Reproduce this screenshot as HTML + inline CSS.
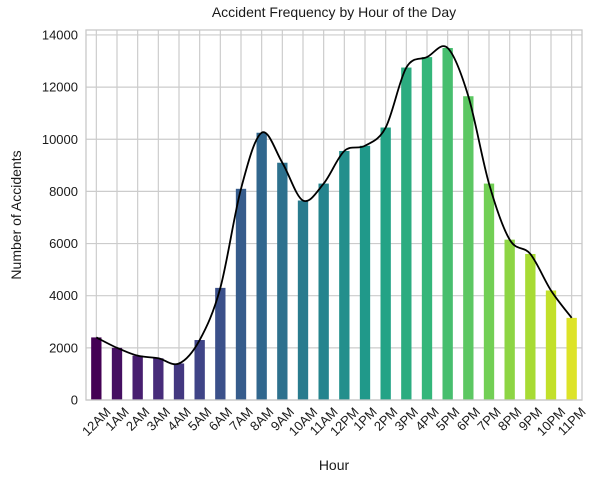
<!DOCTYPE html>
<html><head><meta charset="utf-8"><style>
body{margin:0;background:#fff;}
svg{display:block;font-family:"Liberation Sans","DejaVu Sans",sans-serif;}
</style></head><body>
<svg id="chart" width="600" height="481">
<text x="334" y="17" text-anchor="middle" font-size="14" fill="#1a1a1a">Accident Frequency by Hour of the Day</text>
<text x="334" y="470" text-anchor="middle" font-size="14" fill="#1a1a1a">Hour</text>
<text transform="translate(21,215) rotate(-90)" text-anchor="middle" font-size="14" fill="#1a1a1a">Number of Accidents</text>
<g id="grid"></g><g id="bars"></g><g id="line"></g><g id="ticks"></g>
<rect x="86" y="30" width="496" height="370" fill="none" stroke="#c8c8c8" stroke-width="1.3"/>
</svg>
<script>
const categories=["12AM","1AM","2AM","3AM","4AM","5AM","6AM","7AM","8AM","9AM","10AM","11AM","12PM","1PM","2PM","3PM","4PM","5PM","6PM","7PM","8PM","9PM","10PM","11PM"];
const counts=[2400,2000,1700,1600,1400,2300,4300,8100,10250,9100,7650,8300,9550,9750,10450,12750,13150,13500,11650,8300,6150,5600,4200,3150];
const yTicks=[0,2000,4000,6000,8000,10000,12000,14000];
const NS="http://www.w3.org/2000/svg";
const L=86,R=582,T=30,B=400,YMAX=14190;
const bw=(R-L)/categories.length;
const xS=i=>L+bw*(i+0.5);
const yS=v=>B-(v/YMAX)*(B-T);
const viridis=["#440154","#482878","#3e4989","#31688e","#26828e","#1f9e89","#35b779","#6ece58","#b5de2b","#fde725"];
function hex(h){return [1,3,5].map(k=>parseInt(h.substr(k,2),16));}
function vir(t){const p=t*(viridis.length-1),i=Math.min(Math.floor(p),viridis.length-2),f=p-i;const a=hex(viridis[i]),b=hex(viridis[i+1]);return "rgb("+a.map((c,k)=>Math.round(c+(b[k]-c)*f)).join(",")+")";}
function mk(tag,attrs,parent){const e=document.createElementNS(NS,tag);for(const k in attrs)e.setAttribute(k,attrs[k]);parent.appendChild(e);return e;}
const grid=document.getElementById('grid'),bars=document.getElementById('bars'),ticks=document.getElementById('ticks'),line=document.getElementById('line');
yTicks.forEach(v=>{
 const g=mk('line',{x1:L,x2:R,y1:yS(v),y2:yS(v),stroke:'#cccccc','stroke-width':1.2},grid);
 
 
 const t=mk('text',{x:L-8,y:yS(v)+4.5,'text-anchor':'end','font-size':13,fill:'#1a1a1a'},ticks);
 t.textContent=v;
 
 
});
categories.forEach((c,i)=>{
 const g=mk('line',{x1:xS(i),x2:xS(i),y1:T,y2:B,stroke:'#cccccc','stroke-width':1.2},grid);
 
 
 const r=mk('rect',{x:xS(i)-bw/4,y:yS(counts[i]),width:bw/2,height:B-yS(counts[i]),fill:vir(0.95*i/(categories.length-1))},bars);
 
 
 const t=mk('text',{'text-anchor':'middle','dominant-baseline':'central','font-size':13,fill:'#1a1a1a'},ticks);
 t.textContent=c;
 const len=t.getComputedTextLength();
 const h=(len+13)*0.707;
 t.setAttribute('transform','translate('+(xS(i))+','+(405+h/2)+') rotate(-45)');
 
 
});
const pts=counts.map((v,i)=>[xS(i),yS(v)]);
let d="M"+pts[0][0]+","+pts[0][1];
for(let i=0;i<pts.length-1;i++){
 const p0=pts[Math.max(i-1,0)],p1=pts[i],p2=pts[i+1],p3=pts[Math.min(i+2,pts.length-1)];
 const c1=[p1[0]+(p2[0]-p0[0])/6,p1[1]+(p2[1]-p0[1])/6],c2=[p2[0]-(p3[0]-p1[0])/6,p2[1]-(p3[1]-p1[1])/6];
 d+=" C"+c1+" "+c2+" "+p2;
}
const pl=mk('path',{d:d,fill:'none',stroke:'#000','stroke-width':1.8},line);


</script>
</body></html>
